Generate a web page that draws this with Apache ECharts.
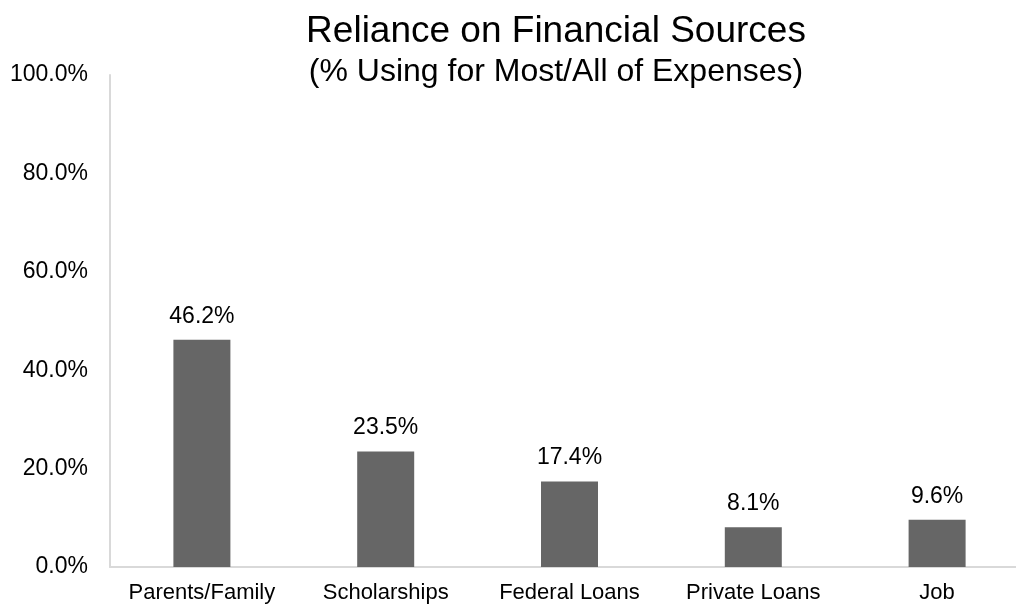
<!DOCTYPE html>
<html>
<head>
<meta charset="utf-8">
<style>
  html, body { margin: 0; padding: 0; background: #ffffff; }
  #chart { width: 1016px; height: 605px; }
</style>
<script src="https://cdn.jsdelivr.net/npm/echarts@6/dist/echarts.min.js"></script>
</head>
<body>
<div id="chart"></div>
<script>
// Share of students relying on each source for most or all of their expenses (%)
const categories = ['Parents/Family', 'Scholarships', 'Federal Loans', 'Private Loans', 'Job'];
const shares = [46.2, 23.5, 17.4, 8.1, 9.6];
const yTicks = { min: 0, max: 100, interval: 20 };

const FONT = '"Liberation Sans", Arial, Helvetica, sans-serif';
const pct = v => v.toFixed(1) + '%';

const chart = echarts.init(document.getElementById('chart'), null, { renderer: 'canvas' });

chart.setOption({
  backgroundColor: '#ffffff',
  animation: false,
  title: [
    {
      text: 'Reliance on Financial Sources',
      left: 556, top: 13, textAlign: 'center', padding: 0,
      textStyle: { fontFamily: FONT, fontSize: 37, lineHeight: 37, fontWeight: 'normal', color: '#000000' }
    },
    {
      text: '(% Using for Most/All of Expenses)',
      left: 556, top: 56, textAlign: 'center', padding: 0,
      textStyle: { fontFamily: FONT, fontSize: 32, lineHeight: 32, fontWeight: 'normal', color: '#000000' }
    }
  ],
  // the plot area runs a little past the right edge of the canvas
  grid: { left: 110, top: 75, width: 919, height: 492, outerBoundsMode: 'none', containLabel: false },
  xAxis: {
    type: 'category',
    data: categories,
    axisLine: { show: true, lineStyle: { color: '#d9d9d9', width: 2 } },
    axisTick: { show: false },
    axisLabel: { fontFamily: FONT, fontSize: 22, lineHeight: 22, color: '#000000', margin: 15, interval: 0 },
    splitLine: { show: false }
  },
  yAxis: {
    type: 'value',
    min: yTicks.min, max: yTicks.max, interval: yTicks.interval,
    axisLine: { show: true, lineStyle: { color: '#d9d9d9', width: 2 } },
    axisTick: { show: false },
    splitLine: { show: false },
    axisLabel: { fontFamily: FONT, fontSize: 23, color: '#000000', margin: 22, formatter: v => pct(v) }
  },
  series: [{
    type: 'bar',
    data: shares,
    barWidth: 57,
    itemStyle: { color: '#666666' },
    label: {
      show: true, position: 'top', distance: 12,
      fontFamily: FONT, fontSize: 23, lineHeight: 23, color: '#000000',
      formatter: p => pct(p.value)
    }
  }]
});
</script>
</body>
</html>
